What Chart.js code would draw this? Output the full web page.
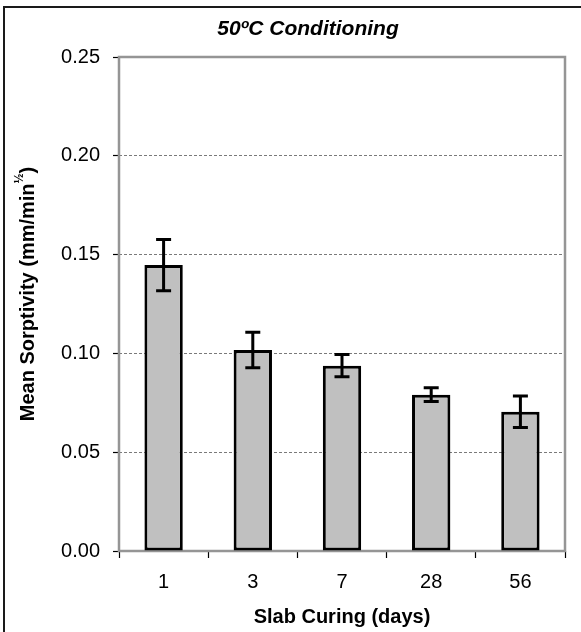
<!DOCTYPE html>
<html>
<head>
<meta charset="utf-8">
<script src="https://cdn.jsdelivr.net/npm/chart.js@4/dist/chart.umd.min.js"></script>
<style>
  html, body { margin: 0; padding: 0; background: #fff; }
  canvas { display: block; }
</style>
</head>
<body>
<canvas id="chart" width="581" height="632"></canvas>
<script>
// data
const days = ['1', '3', '7', '28', '56'];
const sorptivity = [0.1447, 0.1017, 0.0938, 0.0791, 0.0705];
const sorptivityErr = [0.013, 0.009, 0.0056, 0.0035, 0.008];
const yTicks = [0, 0.05, 0.10, 0.15, 0.20, 0.25];

const FONT = '"Liberation Sans", Arial, sans-serif';

// gray frame round the plot area + outer chart frame
const framePlugin = {
  id: 'frame',
  beforeDatasetsDraw(chart) {
    const a = chart.chartArea, ctx = chart.ctx;
    ctx.save();
    ctx.strokeStyle = '#959595';
    ctx.lineWidth = 2.5;
    ctx.strokeRect(a.left, a.top, a.right - a.left, a.bottom - a.top);
    ctx.restore();
  },
  afterDraw(chart) {
    const ctx = chart.ctx;
    ctx.save();
    ctx.strokeStyle = '#1a1a1a';
    ctx.lineWidth = 2;
    ctx.beginPath();
    ctx.moveTo(4, chart.height);
    ctx.lineTo(4, 7);
    ctx.lineTo(chart.width, 7);
    ctx.stroke();
    ctx.restore();
  }
};

// error bars drawn through the scales
const errorBars = {
  id: 'errorBars',
  afterDatasetsDraw(chart) {
    const ctx = chart.ctx;
    const meta = chart.getDatasetMeta(0);
    const y = chart.scales.y;
    ctx.save();
    ctx.strokeStyle = '#000';
    ctx.lineWidth = 3;
    meta.data.forEach((bar, i) => {
      const v = sorptivity[i], e = sorptivityErr[i];
      const top = y.getPixelForValue(v + e), bot = y.getPixelForValue(v - e);
      const x = bar.x, w = 7.5;
      ctx.beginPath();
      ctx.moveTo(x, top); ctx.lineTo(x, bot);
      ctx.moveTo(x - w, top); ctx.lineTo(x + w, top);
      ctx.moveTo(x - w, bot); ctx.lineTo(x + w, bot);
      ctx.stroke();
    });
    ctx.restore();
  }
};

// title and axis titles
const titles = {
  id: 'titles',
  afterDraw(chart) {
    const ctx = chart.ctx, a = chart.chartArea;
    ctx.save();
    ctx.fillStyle = '#000';
    ctx.textAlign = 'center';
    ctx.textBaseline = 'middle';
    ctx.font = 'italic bold 21px ' + FONT;
    ctx.fillText('50ºC Conditioning', 308, 29);

    ctx.font = 'bold 20px ' + FONT;
    ctx.fillText('Slab Curing (days)', (a.left + a.right) / 2, 617);

    // y title with superscript ½
    const main = 'Mean Sorptivity (mm/min', sup = '½', end = ')';
    ctx.translate(28, 294);
    ctx.rotate(-Math.PI / 2);
    ctx.textAlign = 'left';
    ctx.font = 'bold 20px ' + FONT;
    const w1 = ctx.measureText(main).width, w3 = ctx.measureText(end).width;
    ctx.font = 'bold 12px ' + FONT;
    const w2 = ctx.measureText(sup).width;
    let x = -(w1 + w2 + w3) / 2;
    ctx.font = 'bold 20px ' + FONT;
    ctx.fillText(main, x, 0);
    x += w1;
    ctx.font = 'bold 12px ' + FONT;
    ctx.fillText(sup, x, -8);
    x += w2;
    ctx.font = 'bold 20px ' + FONT;
    ctx.fillText(end, x, 0);
    ctx.restore();
  }
};

new Chart(document.getElementById('chart'), {
  type: 'bar',
  data: {
    labels: days,
    datasets: [{
      label: 'Mean Sorptivity',
      data: sorptivity,
      backgroundColor: '#c0c0c0',
      borderColor: '#000',
      borderWidth: 3,
      borderSkipped: false,
      barPercentage: 0.43,
      categoryPercentage: 1.0
    }]
  },
  options: {
    responsive: false,
    animation: false,
    devicePixelRatio: 1,
    layout: { padding: { top: 57, right: 16, left: 0, bottom: 0 } },
    plugins: {
      legend: { display: false },
      title: { display: false },
      tooltip: { enabled: false }
    },
    scales: {
      x: {
        offset: true,
        grid: {
          offset: true,
          drawOnChartArea: false,
          tickLength: 7,
          tickColor: '#000',
          tickWidth: 1.2
        },
        border: { display: false },
        ticks: { color: '#000', font: { family: FONT, size: 20 }, padding: 12, maxRotation: 0 },
        afterFit(s) { s.height = 81; }
      },
      y: {
        min: 0,
        max: 0.25,
        afterBuildTicks(s) { s.ticks = yTicks.map(v => ({ value: v })); },
        grid: {
          color: c => (c.tick && (c.tick.value === 0 || c.tick.value === 0.25)) ? 'rgba(0,0,0,0)' : '#7a7a7a',
          lineWidth: 1,
          tickLength: 6,
          tickColor: '#000',
          tickWidth: 1.2
        },
        border: { display: false, dash: [3, 2] },
        ticks: {
          color: '#000',
          font: { family: FONT, size: 20 },
          padding: 13,
          callback: v => Number(v).toFixed(2)
        },
        afterFit(s) { s.width = 119; }
      }
    }
  },
  plugins: [framePlugin, errorBars, titles]
});
</script>
</body>
</html>
